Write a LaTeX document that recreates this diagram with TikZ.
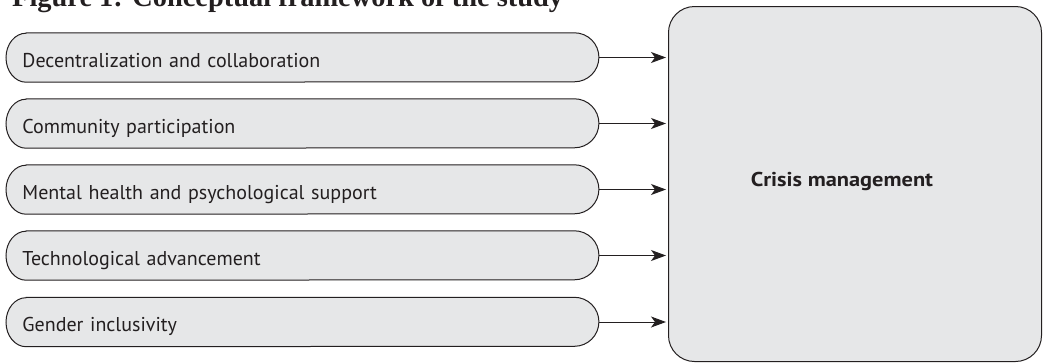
\documentclass[tikz,border=0pt]{standalone}
\usepackage{graphicx}
\usepackage{fontspec}
\setmainfont{PT Sans}
\newfontfamily\titlefont{Liberation Serif}
\usetikzlibrary{arrows.meta,calc}
\definecolor{boxfill}{HTML}{E6E7E8}
\definecolor{ink}{HTML}{231F20}
\tikzset{
  factor/.style={rectangle, draw=none, minimum width=592.5pt, minimum height=49pt,
    anchor=west, text=ink, font=\fontsize{20}{22}\selectfont, align=left,
    text width=560pt, inner xsep=13pt},
  outline/.style={draw=ink, fill=boxfill, line width=1pt},
  link/.style={draw=ink, line width=1pt, -{Stealth[length=15pt,width=11pt,inset=4pt]}},
}
\begin{document}
\begin{tikzpicture}[x=1pt,y=-1pt]
\useasboundingbox (0,0) rectangle (1043,362);
\begin{scope}
\clip (0,0) rectangle (1043,362);
\node[anchor=base west, inner sep=0pt, text=ink, font=\titlefont\bfseries\fontsize{28.4}{32}\selectfont] (title) at (12,6.3) {Figure 1: Conceptual framework of the study};
\end{scope}
% big box
\node[outline, rounded corners=26pt, minimum width=373pt, minimum height=355pt, anchor=north west, inner sep=0pt] (crisis) at (668,6) {};
\node[anchor=base, text=ink, font=\bfseries\fontsize{20}{22}\selectfont] (crisislabel) at (842,186) {\scalebox{1.12}[1]{Crisis management}};
% factor boxes
\foreach \n/\y/\t in {1/57.5/Decentralization and collaboration,
                      2/123.5/Community participation,
                      3/189.5/Mental health and psychological support,
                      4/255.5/Technological advancement,
                      5/322/Gender inclusivity}{
  \node[factor] (f\n) at (6,\y) {};
  \draw[outline] ($(f\n.north west)+(20,0)$) -- ($(f\n.north east)+(-24.5,0)$)
     arc[start angle=90, end angle=-90, radius=24.5pt]
     -- ($(f\n.south west)+(20,0)$)
     arc[start angle=270, end angle=90, x radius=20pt, y radius=24.5pt] -- cycle;
  \node[factor, anchor=base west] (t\n) at ($(f\n.west)+(0,9.8)$) {\t};
  \draw[link] (f\n.east) -- ($(f\n.east -| crisis.west)+(-2,0)$);
}
\end{tikzpicture}
\end{document}
